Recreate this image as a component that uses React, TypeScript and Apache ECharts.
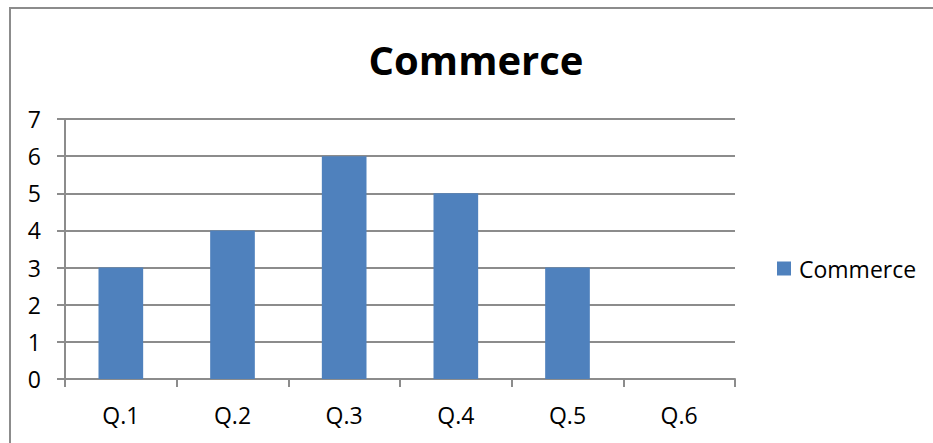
import React, { useEffect, useRef } from "react";
import * as echarts from "echarts";

const categories = ["Q.1", "Q.2", "Q.3", "Q.4", "Q.5", "Q.6"];
const commerceValues = [3, 4, 6, 5, 3, 0];
const seriesName = "Commerce";
const chartTitle = "Commerce";

export default function App() {
  const ref = useRef<HTMLDivElement>(null);
  useEffect(() => {
    if (!ref.current) return;
    const chart = echarts.init(ref.current, null, { renderer: "svg" });
    const gray = "#8c8c8c";
    const font = "'Open Sans', 'Noto Sans', sans-serif";
    chart.setOption({
      animation: false,
      backgroundColor: "#ffffff",
      textStyle: { fontFamily: font },
      graphic: [
        {
          type: "polyline",
          shape: { points: [[10, 443], [10, 8], [933, 8]] },
          style: { fill: "none", stroke: gray, lineWidth: 2 },
          silent: true,
        },
        {
          type: "text",
          x: 476,
          y: 59,
          style: {
            text: chartTitle,
            font: `bold 40px ${font}`,
            fill: "#000000",
            align: "center",
            verticalAlign: "middle",
          },
        },
      ],
      legend: {
        left: 777,
        top: 257,
        padding: 0,
        orient: "vertical",
        itemWidth: 14,
        itemHeight: 14,
        icon: "rect",
        textStyle: { fontSize: 23, color: "#000000", fontFamily: font, padding: [0, 0, 0, 3] },
        data: [seriesName],
      },
      grid: { left: 65, right: 198, top: 119, bottom: 64, containLabel: false },
      xAxis: {
        type: "category",
        data: categories,
        boundaryGap: true,
        axisLine: { show: true, lineStyle: { color: gray, width: 2 } },
        axisTick: { show: true, length: 8, alignWithLabel: false, lineStyle: { color: gray, width: 2 } },
        axisLabel: { fontSize: 23, color: "#000000", margin: 24, fontFamily: font },
        splitLine: { show: false },
      },
      yAxis: {
        type: "value",
        min: 0,
        max: 7,
        interval: 1,
        axisLine: { show: true, lineStyle: { color: gray, width: 2 } },
        axisTick: { show: true, length: 8, inside: false, lineStyle: { color: gray, width: 2 } },
        axisLabel: { fontSize: 23, color: "#000000", margin: 24, fontFamily: font },
        splitLine: { show: true, lineStyle: { color: gray, width: 2 } },
      },
      series: [
        {
          name: seriesName,
          type: "bar",
          data: commerceValues,
          barWidth: "40%",
          itemStyle: { color: "#4f81bd" },
        },
      ],
    });
    return () => chart.dispose();
  }, []);
  return (
    <div
      ref={ref}
      style={{ position: "fixed", left: 0, top: 0, width: 933, height: 443 }}
    />
  );
}
